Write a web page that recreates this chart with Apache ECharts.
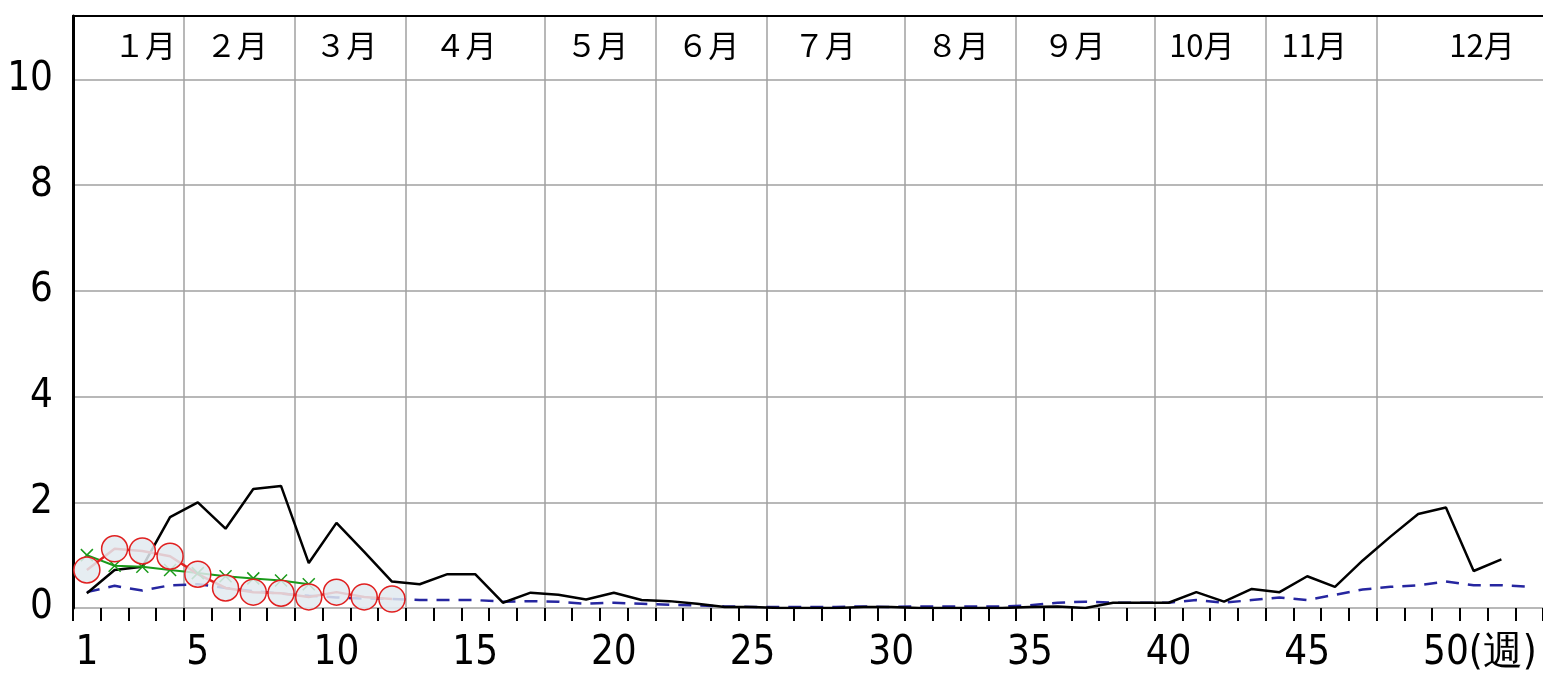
<!DOCTYPE html>
<html>
<head>
<meta charset="utf-8">
<script src="https://cdn.jsdelivr.net/npm/echarts@6/dist/echarts.min.js"></script>
<style>
html, body { margin: 0; padding: 0; background: #fff; }
#chart { width: 1543px; height: 674px; }
</style>
</head>
<body>
<div id="chart"></div>
<script>
// weekly values, index 0 = week 1
var thisYear = [0.72, 1.12, 1.08, 0.98, 0.64, 0.38, 0.30, 0.28, 0.21, 0.30, 0.21, 0.17];
var prevYear = [1.00, 0.80, 0.78, 0.72, 0.66, 0.60, 0.56, 0.52, 0.45];
var lastYear = [0.28, 0.72, 0.78, 1.72, 2.00, 1.50, 2.25, 2.31, 0.85, 1.61,
                1.06, 0.50, 0.45, 0.64, 0.64, 0.10, 0.29, 0.25, 0.16, 0.29,
                0.15, 0.13, 0.08, 0.02, 0.02, 0.00, 0.00, 0.00, 0.02, 0.02,
                0.00, 0.00, 0.00, 0.00, 0.02, 0.03, 0.00, 0.10, 0.10, 0.10,
                0.30, 0.12, 0.36, 0.30, 0.60, 0.40, 0.90, 1.35, 1.78, 1.90,
                0.70, 0.92];
var average = [0.30, 0.42, 0.33, 0.43, 0.45, 0.38, 0.32, 0.27, 0.23, 0.20,
               0.18, 0.17, 0.15, 0.15, 0.15, 0.12, 0.13, 0.12, 0.08, 0.10,
               0.08, 0.06, 0.05, 0.03, 0.02, 0.02, 0.02, 0.02, 0.03, 0.02,
               0.03, 0.03, 0.03, 0.03, 0.05, 0.10, 0.12, 0.10, 0.10, 0.10,
               0.15, 0.10, 0.15, 0.20, 0.15, 0.25, 0.35, 0.40, 0.43, 0.50,
               0.43, 0.43, 0.40];

var weekLabels = [1, 5, 10, 15, 20, 25, 30, 35, 40, 45, 50];
var monthNames = ['１月', '２月', '３月', '４月', '５月', '６月', '７月', '８月', '９月', '10月', '11月', '12月'];
var monthEdges = [4, 8, 12, 17, 21, 25, 30, 34, 39, 43, 47];   // last week of each month
var monthLabelWeek = [3.1, 6.4, 10.35, 14.65, 19.4, 23.4, 27.6, 32.4, 36.6, 41.2, 45.25, 51.3];
var yTicks = [0, 2, 4, 6, 8, 10];

function toPairs(arr) {
    return arr.map(function (v, i) { return [i + 1, v]; });
}

var weekBounds = [];
for (var i = 0; i <= 53; i++) weekBounds.push(i + 0.5);

var numFont = "'Liberation Sans Narrow', 'DejaVu Sans Condensed', 'Liberation Sans', sans-serif";
var cjkFont = "'Noto Sans CJK JP', sans-serif";

var chart = echarts.init(document.getElementById('chart'));
chart.setOption({
    backgroundColor: '#fff',
    animation: false,
    grid: { left: 73, top: 16, right: -3, bottom: 66 },
    xAxis: [{
        type: 'value',
        position: 'bottom',
        min: 0.5,
        max: 53.5,
        axisLine: { show: false },
        splitLine: { show: false },
        axisTick: {
            show: true, length: 13, customValues: weekBounds,
            lineStyle: { color: '#000', width: 2 }
        },
        axisLabel: {
            customValues: weekLabels,
            margin: 26,
            color: '#000',
            fontFamily: numFont,
            fontSize: 40,
            formatter: function (v) {
                return v === 50 ? '{sp|(週)}50(週)' : String(v);
            },
            rich: { sp: { color: 'transparent', fontFamily: numFont, fontSize: 40 } }
        }
    }, {
        type: 'value',
        position: 'top',
        min: 0.5,
        max: 53.5,
        axisLine: { show: true, lineStyle: { color: '#000', width: 2 } },
        axisTick: {
            show: false,
            customValues: monthEdges.map(function (w) { return w + 0.5; })
        },
        splitLine: { show: true, lineStyle: { color: '#a0a0a0', width: 1.5 } },
        axisLabel: {
            inside: true,
            customValues: monthLabelWeek,
            margin: 14,
            color: '#000',
            fontFamily: cjkFont,
            fontSize: 31,
            formatter: function (v) {
                return monthNames[monthLabelWeek.indexOf(v)];
            }
        }
    }],
    yAxis: {
        type: 'value',
        min: 0,
        max: 11.2,
        interval: 2,
        axisLine: { show: true, lineStyle: { color: '#000', width: 3 } },
        axisTick: { show: false },
        splitLine: { show: true, lineStyle: { color: '#a0a0a0', width: 1.5 } },
        axisLabel: {
            customValues: yTicks,
            margin: 20,
            color: '#000',
            fontFamily: numFont,
            fontSize: 40
        }
    },
    series: [{
        name: 'average',
        type: 'line',
        data: toPairs(average),
        showSymbol: false,
        lineStyle: { color: '#2626a0', width: 2.5, type: [13, 9] }
    }, {
        name: 'lastYear',
        type: 'line',
        data: toPairs(lastYear),
        showSymbol: false,
        lineStyle: { color: '#000', width: 2.5 }
    }, {
        name: 'prevYear',
        type: 'line',
        data: toPairs(prevYear),
        symbol: 'path://M0,0L10,10M10,0L0,10',
        symbolSize: 12,
        itemStyle: { color: 'none', borderColor: '#1a9a1a', borderWidth: 1.5 },
        lineStyle: { color: '#1a9a1a', width: 2 }
    }, {
        name: 'thisYear',
        type: 'line',
        data: toPairs(thisYear),
        symbol: 'circle',
        symbolSize: 26,
        itemStyle: { color: 'rgba(226,234,240,0.85)', borderColor: '#e02020', borderWidth: 1.5 },
        lineStyle: { color: '#e02020', width: 2.5 }
    }]
});
</script>
</body>
</html>
